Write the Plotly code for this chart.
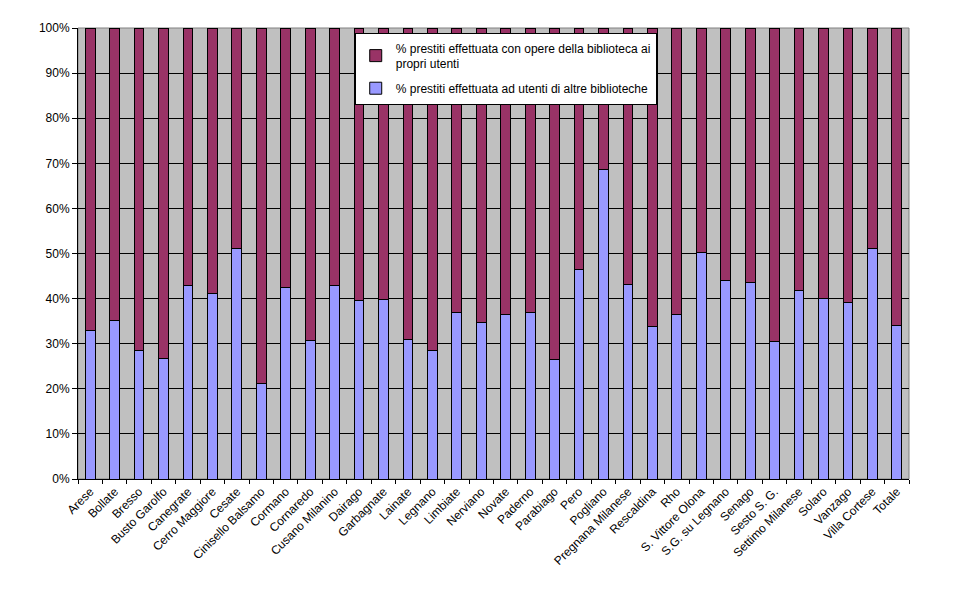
import plotly.graph_objects as go

# Biblioteche (categorie sull'asse x)
biblioteche = [
    "Arese", "Bollate", "Bresso", "Busto Garolfo", "Canegrate", "Cerro Maggiore",
    "Cesate", "Cinisello Balsamo", "Cormano", "Cornaredo", "Cusano Milanino",
    "Dairago", "Garbagnate", "Lainate", "Legnano", "Limbiate", "Nerviano",
    "Novate", "Paderno", "Parabiago", "Pero", "Pogliano", "Pregnana Milanese",
    "Rescaldina", "Rho", "S. Vittore Olona", "S.G. su Legnano", "Senago",
    "Sesto S. G.", "Settimo Milanese", "Solaro", "Vanzago", "Villa Cortese",
    "Totale",
]

# % prestiti ad utenti di altre biblioteche
altre_biblioteche = [
    33.0, 35.2, 28.4, 26.8, 42.8, 41.2, 51.0, 21.2, 42.4, 30.7, 43.0,
    39.5, 39.9, 31.0, 28.6, 37.0, 34.7, 36.4, 37.0, 26.5, 46.4, 68.7,
    43.2, 33.9, 36.4, 50.3, 44.1, 43.6, 30.5, 41.8, 40.1, 39.2, 51.0,
    34.1,
]

# il resto fino al 100%: prestiti ai propri utenti
propri_utenti = [round(100 - v, 1) for v in altre_biblioteche]

y_ticks = list(range(0, 101, 10))

fig = go.Figure()

fig.add_trace(go.Bar(
    x=biblioteche,
    y=altre_biblioteche,
    name="% prestiti effettuata ad utenti di altre biblioteche",
    legendgroup="altre",
    legendrank=2,
    marker=dict(color="#9999FF", line=dict(color="black", width=1)),
))

fig.add_trace(go.Bar(
    x=biblioteche,
    y=propri_utenti,
    name="% prestiti effettuata con opere della biblioteca ai<br>propri utenti",
    legendgroup="propri",
    legendrank=1,
    marker=dict(color="#993366", line=dict(color="black", width=1)),
))

fig.update_layout(
    width=966,
    height=602,
    barmode="stack",
    bargap=0.6,
    paper_bgcolor="white",
    plot_bgcolor="#C0C0C0",
    font=dict(family="Liberation Sans, Arial, sans-serif", size=12, color="black"),
    margin=dict(l=70, r=65, t=20, b=131, autoexpand=False),
    showlegend=True,
    legend=dict(
        x=0.333,
        y=0.99,
        xanchor="left",
        yanchor="top",
        traceorder="grouped",
        tracegroupgap=6,
        itemwidth=30,
        bgcolor="white",
        bordercolor="black",
        borderwidth=1,
        font=dict(size=12),
    ),
)

fig.update_xaxes(
    type="category",
    tickangle=-45,
    ticks="outside",
    tickson="boundaries",
    ticklen=4,
    tickcolor="black",
    showline=True,
    linecolor="black",
    linewidth=1,
    showgrid=False,
    automargin=False,
)

fig.update_yaxes(
    range=[0, 100],
    tickvals=y_ticks,
    ticktext=[f"{v}%" for v in y_ticks],
    ticks="outside",
    ticklen=5,
    tickcolor="black",
    showline=True,
    linecolor="black",
    linewidth=1,
    showgrid=True,
    gridcolor="black",
    gridwidth=1,
    zeroline=False,
    automargin=False,
)

# sottile bordo grigio dell'area del grafico (sopra e a destra)
fig.add_shape(
    type="rect", xref="paper", yref="paper", x0=0, y0=0, x1=1, y1=1,
    line=dict(color="#808080", width=1), layer="below",
)

fig.write_html("out.html")
